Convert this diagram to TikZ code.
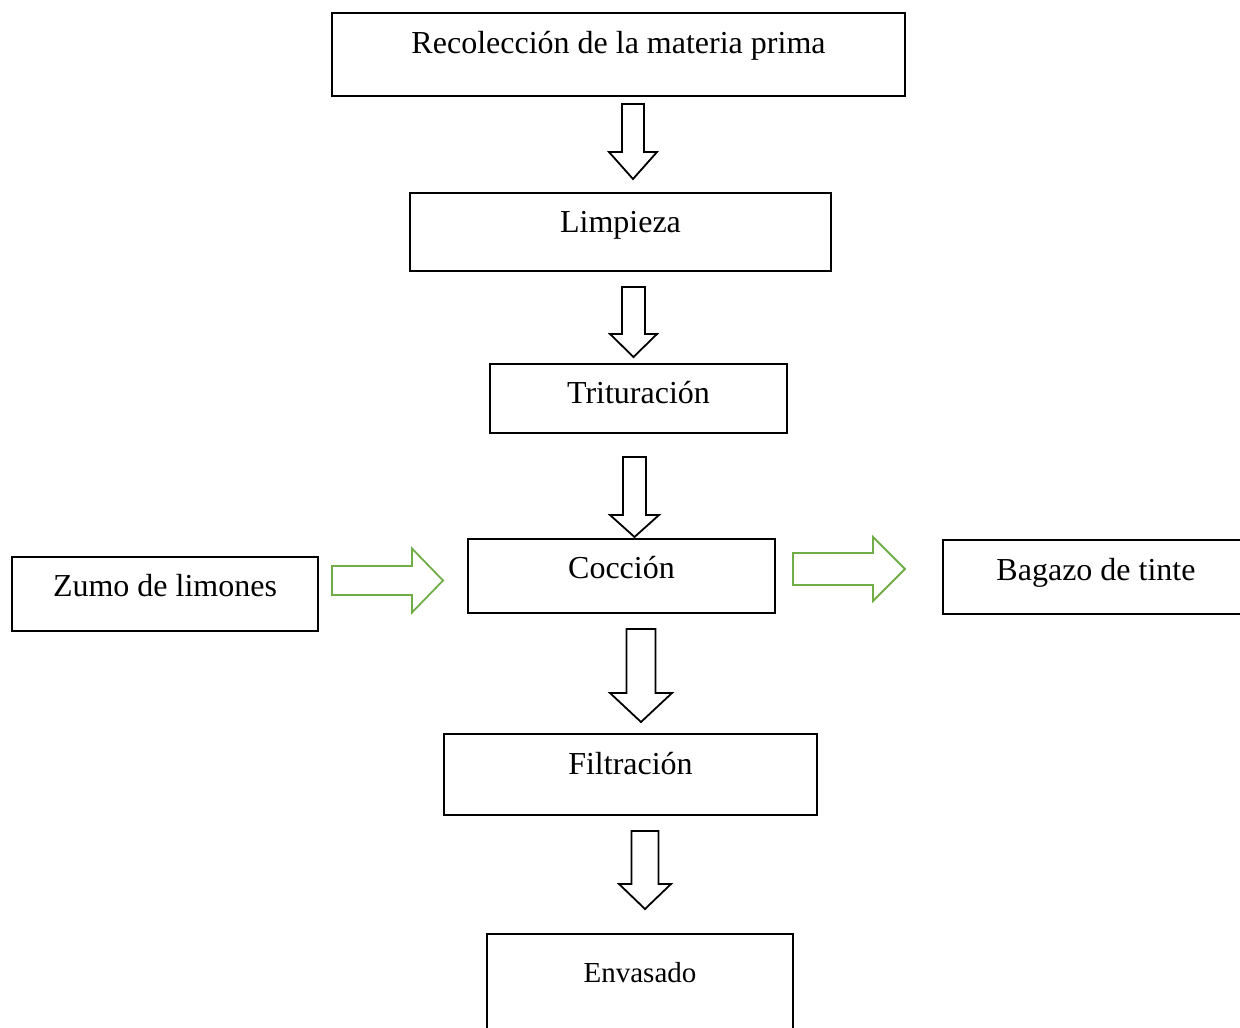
\documentclass[tikz,border=0pt]{standalone}
\usepackage{fontspec}
\setmainfont{Liberation Serif}
\usepackage{tikz}
\usetikzlibrary{positioning}

\definecolor{verdeflecha}{RGB}{112,173,71}

% block arrow pointing down: x, top, neck, tip, half shaft, half head
\newcommand{\flowdown}[6]{%
	\draw[flowarrow] (#1-#5,#2) -- (#1+#5,#2) -- (#1+#5,#3) -- (#1+#6,#3) -- (#1,#4)
		-- (#1-#6,#3) -- (#1-#5,#3) -- cycle;}
% block arrow pointing right: y, left, neck, tip, half shaft, half head
\newcommand{\flowright}[6]{%
	\draw[flowarrow,draw=verdeflecha] (#2,#1-#5) -- (#3,#1-#5) -- (#3,#1-#6) -- (#4,#1)
		-- (#3,#1+#6) -- (#3,#1+#5) -- (#2,#1+#5) -- cycle;}

\begin{document}
\begin{tikzpicture}[x=1pt,y=-1pt,
	pasobox/.style={shape=rectangle,draw=black,line width=2pt,inner sep=0pt,anchor=north west},
	pasotexto/.style={anchor=base,inner sep=0pt,font=\fontsize{32}{38}\selectfont},
	flowarrow/.style={draw=black,line width=1.8pt,line join=miter}]
	\useasboundingbox (0,0) rectangle (1240,1028);
	\node[pasobox,minimum width=573pt,minimum height=83pt] (recoleccion) at (331,12) {};
	\node[pasobox,minimum width=421pt,minimum height=78pt] (limpieza) at (409,192) {};
	\node[pasobox,minimum width=297pt,minimum height=69pt] (trituracion) at (489,363) {};
	\node[pasobox,minimum width=307pt,minimum height=74pt] (coccion) at (467,538) {};
	\node[pasobox,minimum width=306pt,minimum height=74pt] (zumo) at (11,556) {};
	\node[pasobox,minimum width=306pt,minimum height=74pt] (bagazo) at (942,539) {};
	\node[pasobox,minimum width=373pt,minimum height=81pt] (filtracion) at (443,733) {};
	\node[pasobox,minimum width=306pt,minimum height=120pt] (envasado) at (486,933) {};
	\node[pasotexto] (recoleccion-t) at ([yshift=-41pt]recoleccion.north) {Recolección de la materia prima};
	\node[pasotexto] (limpieza-t) at ([yshift=-40pt]limpieza.north) {Limpieza};
	\node[pasotexto] (trituracion-t) at ([yshift=-40pt]trituracion.north) {Trituración};
	\node[pasotexto] (coccion-t) at ([yshift=-40pt]coccion.north) {Cocción};
	\node[pasotexto] (zumo-t) at ([yshift=-40pt]zumo.north) {Zumo de limones};
	\node[pasotexto] (bagazo-t) at ([yshift=-41pt]bagazo.north) {Bagazo de tinte};
	\node[pasotexto] (filtracion-t) at ([yshift=-41pt]filtracion.north) {Filtración};
	\node[pasotexto,font=\fontsize{29}{35}\selectfont] (envasado-t) at ([yshift=-49pt]envasado.north) {Envasado};
	\flowdown{633}{104}{152}{179}{11}{24}
	\flowdown{633.5}{287}{334}{357}{11.5}{23.5}
	\flowdown{634.5}{457}{515}{537}{11.5}{24.5}
	\flowdown{641}{629}{693}{722}{14.5}{31}
	\flowdown{645}{831}{884}{909}{13.5}{26}
	\flowright{580.5}{332}{412}{443}{14.5}{32}
	\flowright{569}{793}{873}{905}{16}{32}
\end{tikzpicture}
\end{document}
